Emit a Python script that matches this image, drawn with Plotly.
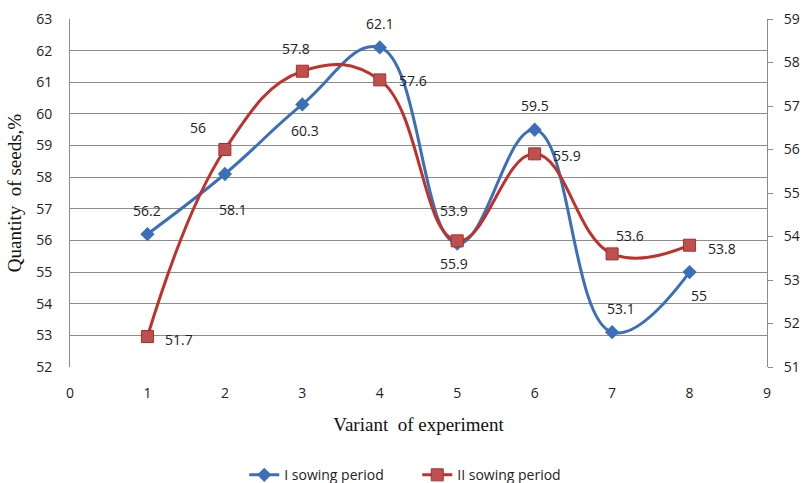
import plotly.graph_objects as go

variants = [1, 2, 3, 4, 5, 6, 7, 8]
sowing_I = [56.2, 58.1, 60.3, 62.1, 55.9, 59.5, 53.1, 55]
sowing_II = [51.7, 56, 57.8, 57.6, 53.9, 55.9, 53.6, 53.8]
x_ticks = list(range(0, 10))
left_ticks = list(range(52, 64))
right_ticks = list(range(51, 60))

# label offsets (px) relative to points
off_I = [(0, -24), (8, 35), (3, 26), (0, -24), (-3, 20), (0, -24), (9, -24), (9, 23)]
off_II = [(32, 3), (-27, -22), (-6, -23), (33, 1), (-3, -30), (32, 2), (18, -18), (32, 3)]

BLUE = "#3b70b9"
RED = "#c0312c"

fig = go.Figure()
fig.add_trace(go.Scatter(
    x=variants, y=sowing_I, name="I sowing period", mode="lines+markers",
    line=dict(color=BLUE, width=3, shape="spline", smoothing=1.2),
    marker=dict(symbol="diamond", size=11, color=BLUE),
    yaxis="y"))
fig.add_trace(go.Scatter(
    x=variants, y=sowing_II, name="II sowing period", mode="lines+markers",
    line=dict(color=RED, width=3, shape="spline", smoothing=1.2),
    marker=dict(symbol="square", size=12, color="#c0504d", line=dict(color="#a3302c", width=1)),
    yaxis="y2"))

annos = []
for xv, yv, (dx, dy) in zip(variants, sowing_I, off_I):
    annos.append(dict(x=xv, y=yv, xref="x", yref="y", text=f"{yv:g}", showarrow=False,
                      xshift=dx, yshift=-dy, font=dict(size=14, color="#222", family="Open Sans")))
for xv, yv, (dx, dy) in zip(variants, sowing_II, off_II):
    annos.append(dict(x=xv, y=yv, xref="x", yref="y2", text=f"{yv:g}", showarrow=False,
                      xshift=dx, yshift=-dy, font=dict(size=14, color="#222", family="Open Sans")))

fig.update_layout(
    width=804, height=483,
    margin=dict(l=70, r=37, t=19, b=116, autoexpand=False),
    paper_bgcolor="white", plot_bgcolor="white",
    font=dict(family="Open Sans", size=14, color="#222"),
    showlegend=True,
    legend=dict(orientation="h", x=0.25, xanchor="left", y=-0.265, yanchor="top",
                font=dict(size=14, color="#222", family="Open Sans"),
                entrywidth=128, entrywidthmode="pixels"),
    xaxis=dict(range=[0, 9], tickvals=x_ticks, showgrid=False, zeroline=False,
               showline=False, ticks="", ticklabelstandoff=16, automargin=False,
               title=dict(text="Variant  of experiment", standoff=16,
                          font=dict(family="Liberation Serif", size=19, color="#111"))),
    yaxis=dict(range=[52, 63], tickvals=left_ticks, showgrid=True, gridcolor="#8c8c8c",
               gridwidth=1, zeroline=False, showline=True, linecolor="#8c8c8c",
               ticks="", ticklabelstandoff=14, automargin=False,
               title=dict(text="Quantity  of seeds,%", standoff=9,
                          font=dict(family="Liberation Serif", size=19, color="#111"))),
    yaxis2=dict(range=[51, 59], tickvals=right_ticks, overlaying="y", side="right",
                showgrid=False, zeroline=False, showline=True, linecolor="#8c8c8c",
                ticks="outside", ticklen=5, tickcolor="#8c8c8c", ticklabelstandoff=8,
                automargin=False),
    annotations=annos,
)

fig.write_html(
    "out.html",
    config={"displayModeBar": False},
    post_script="document.body.style.margin='0';document.body.style.overflow='hidden';",
)
